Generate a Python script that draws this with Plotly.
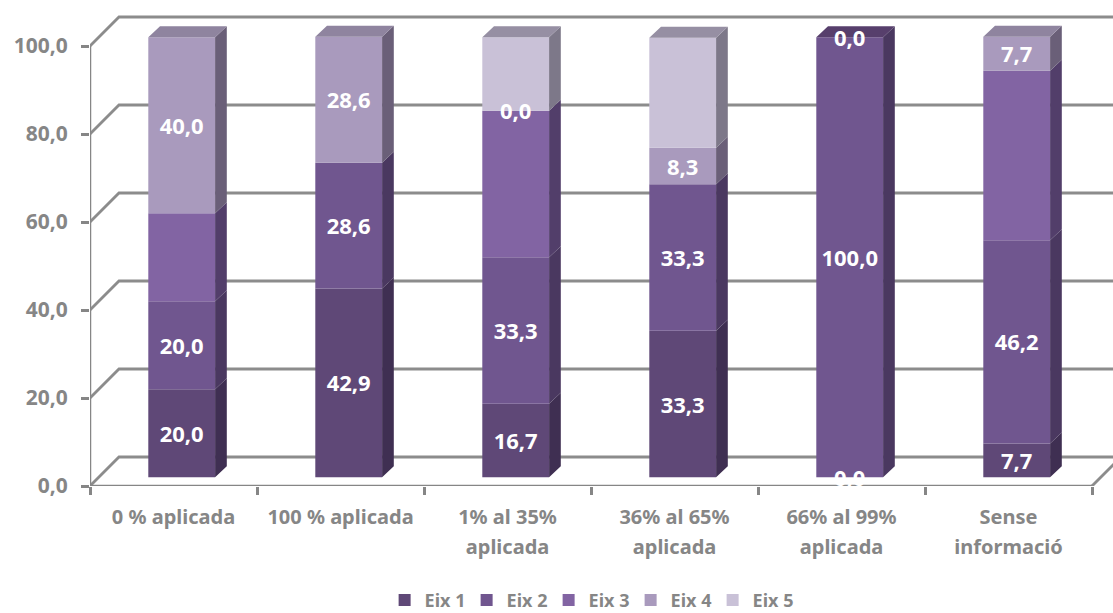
import plotly.graph_objects as go

categories_line1 = ["0 % aplicada", "100 % aplicada", "1% al 35%", "36% al 65%", "66% al 99%", "Sense"]
categories_line2 = ["", "", "aplicada", "aplicada", "aplicada", "informació"]
series_names = ["Eix 1", "Eix 2", "Eix 3", "Eix 4", "Eix 5"]
eix1 = [20.0, 42.9, 16.7, 33.3, 0.0, 7.7]
eix2 = [20.0, 28.6, 33.3, 33.3, 100.0, 46.2]
eix3 = [20.0, 0.0, 33.3, 0.0, 0.0, 38.5]
eix4 = [40.0, 28.6, 0.0, 8.3, 0.0, 7.7]
eix5 = [0.0, 0.0, 16.7, 25.0, 0.0, 0.0]
labels1 = ["20,0", "42,9", "16,7", "33,3", "0,0", "7,7"]
labels2 = ["20,0", "28,6", "33,3", "33,3", "100,0", "46,2"]
labels3 = ["", "", "", "", "0,0", ""]
labels4 = ["40,0", "28,6", "0,0", "8,3", "", "7,7"]
labels5 = ["", "", "", "", "", ""]
y_ticks = [0, 20, 40, 60, 80, 100]
y_ticktext = ["0,0", "20,0", "40,0", "60,0", "80,0", "100,0"]

front = ["#5f4877", "#70568f", "#8264a3", "#a99abd", "#c9c1d7"]
side = ["#3f2f52", "#4a3860", "#523e6a", "#6a5f78", "#7d7889"]
top = ["#4a3860", "#573f6c", "#6a5585", "#8f849f", "#968fa3"]

GREY = "#868686"
FONT = "Noto Sans"
PX_X = 167.0       # pixels per category
PX_Y = 4.4         # pixels per unit
wall_dx, wall_dy = 29 / PX_X, 29 / PX_Y
bar_off_x, bar_off_y = 8.7 / PX_X, 8.7 / PX_Y
depth_x, depth_y = 11.7 / PX_X, 11 / PX_Y
bar_w = 0.40
label_nudge = 3 / PX_Y

series = [eix1, eix2, eix3, eix4, eix5]
labels = [labels1, labels2, labels3, labels4, labels5]
n = len(categories_line1)
centers = [i + 0.5 + bar_off_x - 0.003 for i in range(n)]

fig = go.Figure()
base = [bar_off_y] * n
label_x, label_y, label_t = [], [], []
side_traces, top_traces = [], []
for s, vals in enumerate(series):
    fig.add_trace(go.Bar(x=centers, y=vals, base=list(base), width=bar_w, name=series_names[s],
                         marker=dict(color=front[s], line=dict(width=0)), hoverinfo="skip"))
    sx, sy = [], []
    for i, v in enumerate(vals):
        b, t = base[i], base[i] + v
        if labels[s][i]:
            label_x.append(centers[i]); label_y.append((b + t) / 2 - label_nudge); label_t.append(labels[s][i])
        if v > 0:
            x1 = centers[i] + bar_w / 2
            sx += [x1, x1 + depth_x, x1 + depth_x, x1, x1, None]
            sy += [b, b + depth_y, t + depth_y, t, b, None]
    side_traces.append(go.Scatter(x=sx, y=sy, mode="lines", fill="toself", fillcolor=side[s],
                                  line=dict(width=0), hoverinfo="skip", showlegend=False))
    base = [b + v for b, v in zip(base, vals)]

# top faces take the colour of the uppermost non-empty segment
for s in range(len(series)):
    tx, ty = [], []
    for i in range(n):
        if series[s][i] > 0 and all(series[k][i] == 0 for k in range(s + 1, len(series))):
            x0, x1, t = centers[i] - bar_w / 2, centers[i] + bar_w / 2, base[i]
            tx += [x0, x0 + depth_x, x1 + depth_x, x1, x0, None]
            ty += [t, t + depth_y, t + depth_y, t, t, None]
    top_traces.append(go.Scatter(x=tx, y=ty, mode="lines", fill="toself", fillcolor=top[s],
                                 line=dict(width=0), hoverinfo="skip", showlegend=False))
for tr in side_traces + top_traces:
    fig.add_trace(tr)

# front axis lines
fig.add_trace(go.Scatter(x=[0, 0, n], y=[100, 0, 0], mode="lines", line=dict(color=GREY, width=2.5),
                         cliponaxis=False, hoverinfo="skip", showlegend=False))
# data labels
fig.add_trace(go.Scatter(x=label_x, y=label_y, text=label_t, mode="text", cliponaxis=False,
                         textfont=dict(family=FONT, size=22, color="white", weight="bold"),
                         hoverinfo="skip", showlegend=False))
# carrier for the second row of category labels
fig.add_trace(go.Scatter(x=[0.5], y=[None], xaxis="x2", mode="markers", hoverinfo="skip", showlegend=False))

shapes = []
for v in y_ticks:
    shapes.append(dict(type="path", layer="below", line=dict(color="#8c8c8c", width=2.8),
                       path=f"M 0 {v} L {wall_dx} {v + wall_dy} L {n + wall_dx} {v + wall_dy}"))
shapes.append(dict(type="line", layer="below", line=dict(color="#8c8c8c", width=2.8),
                   x0=n, y0=0, x1=n + wall_dx, y1=wall_dy))

tick_font = dict(family=FONT, size=20, color=GREY, weight="bold")
x_range = [0, 1023 / PX_X]
fig.update_layout(
    width=1113, height=613, barmode="overlay", plot_bgcolor="white", paper_bgcolor="white",
    margin=dict(l=90, r=0, t=10, b=127, autoexpand=False),
    shapes=shapes, font=dict(family=FONT, size=20, color=GREY, weight="bold"),
    xaxis=dict(range=x_range, tickmode="array", tickvals=[i + 0.5 for i in range(n)],
               ticktext=categories_line1, ticks="", showgrid=False, zeroline=False, showline=False,
               tickfont=tick_font, ticklabelstandoff=17,
               minor=dict(tickmode="array", tickvals=list(range(n + 1)), ticks="outside", ticklen=8,
                          tickwidth=2.5, tickcolor=GREY, showgrid=False)),
    xaxis2=dict(range=x_range, overlaying="x", side="bottom", anchor="y", tickmode="array",
                tickvals=[i + 0.5 for i in range(n)], ticktext=categories_line2, ticks="",
                showgrid=False, zeroline=False, showline=False, tickfont=tick_font, ticklabelstandoff=47),
    yaxis=dict(range=[0, 476 / PX_Y], tickmode="array", tickvals=y_ticks, ticktext=y_ticktext,
               ticks="outside", ticklen=8, tickwidth=2.5, tickcolor=GREY, showgrid=False,
               zeroline=False, showline=False, ticklabelstandoff=9,
               tickfont=dict(family=FONT, size=21, color=GREY, weight="bold")),
    legend=dict(orientation="h", x=0.288, xanchor="left", y=-0.24, yanchor="middle",
                font=dict(family=FONT, size=18, color=GREY, weight="bold"), entrywidth=37,
                entrywidthmode="pixels", bgcolor="rgba(0,0,0,0)"),
)
fig.write_html("out.html", config={"displayModeBar": False},
               post_script="document.body.style.margin='0';document.body.style.overflow='hidden';")
